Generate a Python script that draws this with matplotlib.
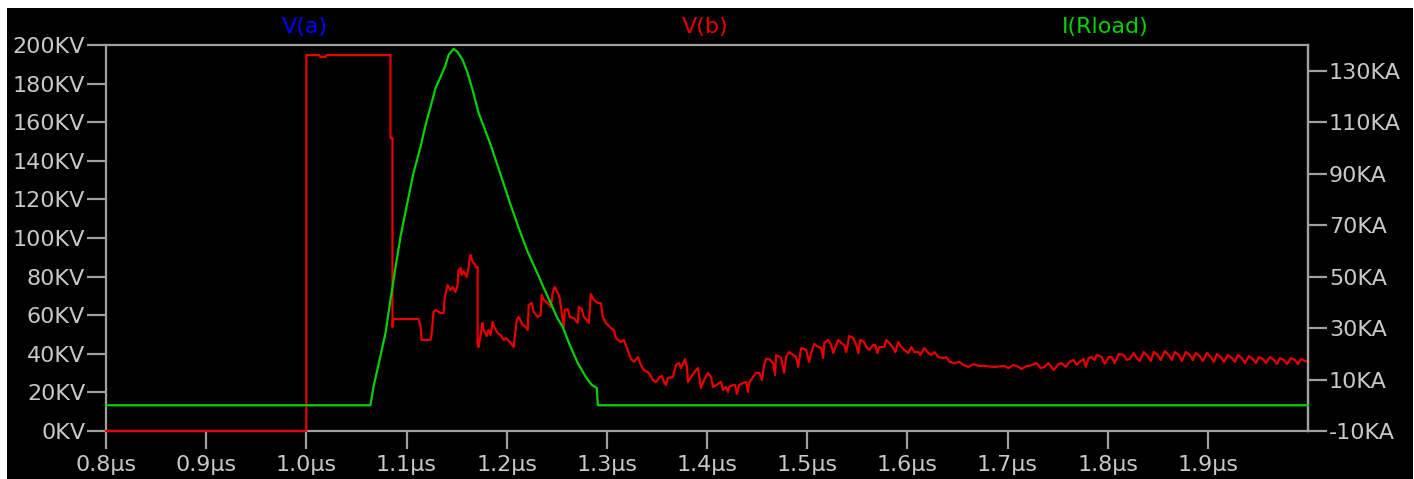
import numpy as np
import matplotlib.pyplot as plt

# V(b) trace, time in us and voltage in KV
vb_t = [0.800, 1.000, 1.000, 1.013, 1.014, 1.019, 1.020, 1.084, 1.084, 1.086, 1.086,
        1.087, 1.112, 1.114, 1.115, 1.124, 1.125, 1.127, 1.129, 1.134, 1.137, 1.138,
        1.141, 1.144, 1.146, 1.149, 1.151, 1.152, 1.154, 1.155, 1.157, 1.160, 1.162,
        1.163, 1.164, 1.166, 1.168, 1.169, 1.171, 1.171, 1.172, 1.174, 1.176, 1.177,
        1.180, 1.182, 1.184, 1.186, 1.188, 1.191, 1.194, 1.197, 1.199, 1.204, 1.207,
        1.210, 1.212, 1.216, 1.219, 1.221, 1.222, 1.225, 1.227, 1.231, 1.234, 1.235,
        1.237, 1.241, 1.244, 1.246, 1.248, 1.251, 1.253, 1.255, 1.257, 1.258, 1.261,
        1.263, 1.267, 1.271, 1.272, 1.275, 1.277, 1.280, 1.282, 1.284, 1.287, 1.291,
        1.294, 1.296, 1.299, 1.304, 1.307, 1.309, 1.314, 1.317, 1.320, 1.324, 1.327,
        1.331, 1.334, 1.337, 1.342, 1.346, 1.349, 1.352, 1.355, 1.357, 1.359, 1.361,
        1.366, 1.369, 1.372, 1.374, 1.377, 1.378, 1.380, 1.381, 1.384, 1.389, 1.391,
        1.392, 1.394, 1.397, 1.401, 1.404, 1.406, 1.409, 1.412, 1.414, 1.416, 1.419,
        1.421, 1.422, 1.426, 1.428, 1.430, 1.432, 1.436, 1.439, 1.441, 1.442, 1.446,
        1.449, 1.452, 1.455, 1.457, 1.459, 1.462, 1.466, 1.468, 1.469, 1.474, 1.477,
        1.479, 1.482, 1.486, 1.489, 1.491, 1.494, 1.499, 1.502, 1.504, 1.507, 1.511,
        1.514, 1.516, 1.517, 1.521, 1.524, 1.526, 1.529, 1.531, 1.534, 1.537, 1.539,
        1.542, 1.546, 1.549, 1.551, 1.553, 1.557, 1.559, 1.562, 1.566, 1.568, 1.570,
        1.572, 1.577, 1.579, 1.582, 1.586, 1.588, 1.591, 1.594, 1.597, 1.601, 1.604,
        1.607, 1.611, 1.613, 1.617, 1.621, 1.624, 1.627, 1.631, 1.636, 1.639, 1.642,
        1.647, 1.652, 1.656, 1.661, 1.666, 1.671, 1.677, 1.687, 1.697, 1.701, 1.706,
        1.711, 1.714, 1.719, 1.722, 1.729, 1.733, 1.737, 1.741, 1.746, 1.751, 1.754,
        1.758, 1.762, 1.766, 1.769, 1.772, 1.776, 1.778, 1.781, 1.784, 1.787, 1.789,
        1.794, 1.797, 1.801, 1.804, 1.807, 1.811, 1.816, 1.819, 1.822, 1.826, 1.829,
        1.832, 1.836, 1.840, 1.843, 1.846, 1.850, 1.853, 1.857, 1.861, 1.864, 1.867,
        1.871, 1.874, 1.878, 1.882, 1.885, 1.888, 1.892, 1.895, 1.899, 1.903, 1.906,
        1.909, 1.913, 1.916, 1.920, 1.924, 1.927, 1.930, 1.934, 1.937, 1.941, 1.945,
        1.948, 1.951, 1.955, 1.958, 1.962, 1.966, 1.969, 1.972, 1.976, 1.979, 1.983,
        1.987, 1.990, 1.993, 1.997, 2.000]
vb_kv = [0.0, 0.0, 194.8, 194.8, 193.8, 193.8, 194.8, 194.8, 151.8, 151.8, 53.9,
         58.0, 58.0, 54.4, 47.2, 47.2, 49.7, 61.7, 62.7, 61.1, 61.1, 68.9,
         75.6, 73.1, 74.6, 72.0, 75.6, 83.4, 84.5, 80.8, 82.9, 79.8, 84.5,
         89.6, 91.2, 87.6, 86.5, 85.0, 85.0, 45.6, 43.5, 49.7, 56.0, 52.3,
         49.2, 52.3, 49.7, 56.5, 53.4, 50.8, 49.7, 47.2, 48.2, 45.6, 43.5,
         57.5, 59.1, 54.9, 53.9, 52.3, 65.3, 66.3, 61.7, 59.1, 60.1, 70.5,
         67.9, 66.3, 64.2, 71.5, 74.6, 71.5, 68.9, 61.1, 53.9, 62.7, 63.2,
         59.1, 58.5, 56.0, 64.2, 63.2, 59.1, 57.5, 56.0, 71.0, 67.9, 66.3,
         66.3, 59.1, 56.0, 53.4, 52.3, 48.2, 46.1, 47.2, 43.0, 37.5, 35.8,
         38.3, 34.2, 31.6, 30.1, 26.4, 25.4, 27.5, 28.5, 25.4, 23.8, 27.5,
         28.0, 34.2, 35.2, 32.6, 35.8, 37.3, 33.2, 25.4, 28.0, 31.6, 32.6,
         29.0, 22.3, 26.4, 30.1, 28.0, 22.8, 23.8, 24.9, 25.4, 21.2, 22.8,
         20.2, 22.8, 23.8, 23.8, 19.2, 23.8, 24.9, 25.4, 20.2, 24.9, 28.0,
         30.1, 30.1, 26.4, 34.2, 37.3, 37.3, 35.2, 29.0, 39.4, 37.8, 30.1,
         38.3, 40.9, 39.4, 38.3, 33.2, 43.0, 42.0, 35.8, 40.4, 45.1, 43.5,
         43.0, 37.8, 45.6, 47.2, 44.6, 40.4, 44.6, 47.2, 45.6, 44.6, 40.9,
         49.2, 48.2, 44.6, 40.4, 47.2, 46.1, 43.5, 42.0, 44.6, 44.6, 40.4,
         43.5, 43.5, 47.2, 45.6, 43.0, 40.9, 46.1, 43.5, 42.0, 40.4, 43.5,
         40.9, 40.9, 39.4, 43.0, 40.4, 39.4, 40.9, 38.3, 37.8, 38.3, 35.8,
         35.2, 35.8, 34.2, 33.2, 34.7, 33.7, 33.7, 33.2, 33.7, 32.6, 34.2,
         33.2, 32.1, 33.7, 33.7, 35.2, 32.6, 33.2, 35.2, 31.6, 34.7, 35.2,
         33.2, 35.8, 36.8, 34.2, 35.8, 37.3, 33.2, 37.8, 38.3, 36.8, 39.4,
         38.3, 34.7, 38.3, 38.3, 35.2, 39.9, 39.4, 36.8, 37.3, 40.4, 37.8,
         36.3, 40.9, 38.8, 36.3, 40.9, 39.4, 36.8, 41.4, 39.4, 36.8, 40.9,
         39.4, 36.3, 40.9, 39.4, 36.8, 40.4, 38.8, 36.3, 40.4, 38.3, 35.8,
         39.9, 38.3, 35.8, 39.4, 37.8, 35.8, 39.4, 37.8, 35.2, 38.8, 37.3,
         35.2, 38.3, 37.3, 35.2, 38.3, 36.8, 34.7, 37.8, 36.8, 34.7, 37.8,
         36.8, 34.7, 37.3, 36.3, 35.8]

# I(Rload) trace, time in us and current in KA
il_t = [0.800, 1.064, 1.067, 1.072, 1.079, 1.084, 1.089, 1.094,
        1.102, 1.107, 1.114, 1.119, 1.124, 1.129, 1.134, 1.139, 1.142, 1.147,
        1.151, 1.156, 1.161, 1.166, 1.172, 1.184, 1.194, 1.204, 1.212, 1.221,
        1.231, 1.237, 1.244, 1.250, 1.256, 1.263, 1.271, 1.279, 1.285, 1.290,
        1.291, 2.000]
il_ka = [0.0, 0.0, 7.1, 15.7, 28.0, 41.0, 53.5, 65.5,
         80.9, 90.3, 100.4, 108.9, 115.9, 123.3, 127.6, 132.2, 136.1, 138.5,
         137.3, 134.2, 129.1, 122.5, 113.6, 101.2, 89.5, 77.8, 68.9, 59.6,
         51.0, 45.6, 39.7, 34.3, 30.4, 23.4, 16.4, 11.0, 7.9, 6.7,
         0.0, 0.0]

x_ticks = [0.8, 0.9, 1.0, 1.1, 1.2, 1.3, 1.4, 1.5, 1.6, 1.7, 1.8, 1.9]
kv_ticks = [0, 20, 40, 60, 80, 100, 120, 140, 160, 180, 200]
ka_ticks = [-10, 10, 30, 50, 70, 90, 110, 130]

axis_gray = '#a0a0a0'
text_gray = '#c8c8c8'

fig = plt.figure(figsize=(14.14, 4.79), dpi=100, facecolor='white')
# black panel inside a thin white frame
fig.patches.append(plt.Rectangle((7/1414, 0), 1406/1414, 471/479, transform=fig.transFigure,
                                 facecolor='black', edgecolor='none', zorder=-10))

ax = fig.add_axes([106/1414, 48/479, 1202/1414, 386/479])
ax.set_facecolor('black')
ax.set_xlim(0.8, 2.0)
ax.set_ylim(0, 200)
ax.set_xticks(x_ticks)
ax.set_xticklabels([f"{v:.1f}µs" for v in x_ticks])
ax.set_yticks(kv_ticks)
ax.set_yticklabels([f"{v}KV" for v in kv_ticks])

ax2 = ax.twinx()
ax2.set_ylim(-10, 140)
ax2.set_yticks(ka_ticks)
ax2.set_yticklabels([f"{v}KA" for v in ka_ticks])

for a in (ax, ax2):
    for s in a.spines.values():
        s.set_color(axis_gray)
        s.set_linewidth(1.6)
    a.tick_params(colors=axis_gray, labelcolor=text_gray, labelsize=16,
                  length=14, width=1.6, pad=1)
ax.tick_params(axis='x', length=13, pad=4)
# only one copy of the frame, so the traces sit on top of it
for side in ('top', 'bottom', 'left'):
    ax2.spines[side].set_visible(False)

# V(b) on the KV axis, I(Rload) on the KA axis
ax.plot(vb_t, vb_kv, color='#e60000', lw=1.6, zorder=5, clip_on=False)
ax2.plot(il_t, il_ka, color='#00d200', lw=1.6, zorder=6, clip_on=False)

fig.text(305/1414, 1 - 27/479, 'V(a)', color='#0000ff', fontsize=16, ha='center', va='center')
fig.text(705/1414, 1 - 27/479, 'V(b)', color='#e60000', fontsize=16, ha='center', va='center')
fig.text(1105/1414, 1 - 27/479, 'I(Rload)', color='#00d200', fontsize=16, ha='center', va='center')

plt.savefig('out.png', dpi=100, facecolor=fig.get_facecolor())
